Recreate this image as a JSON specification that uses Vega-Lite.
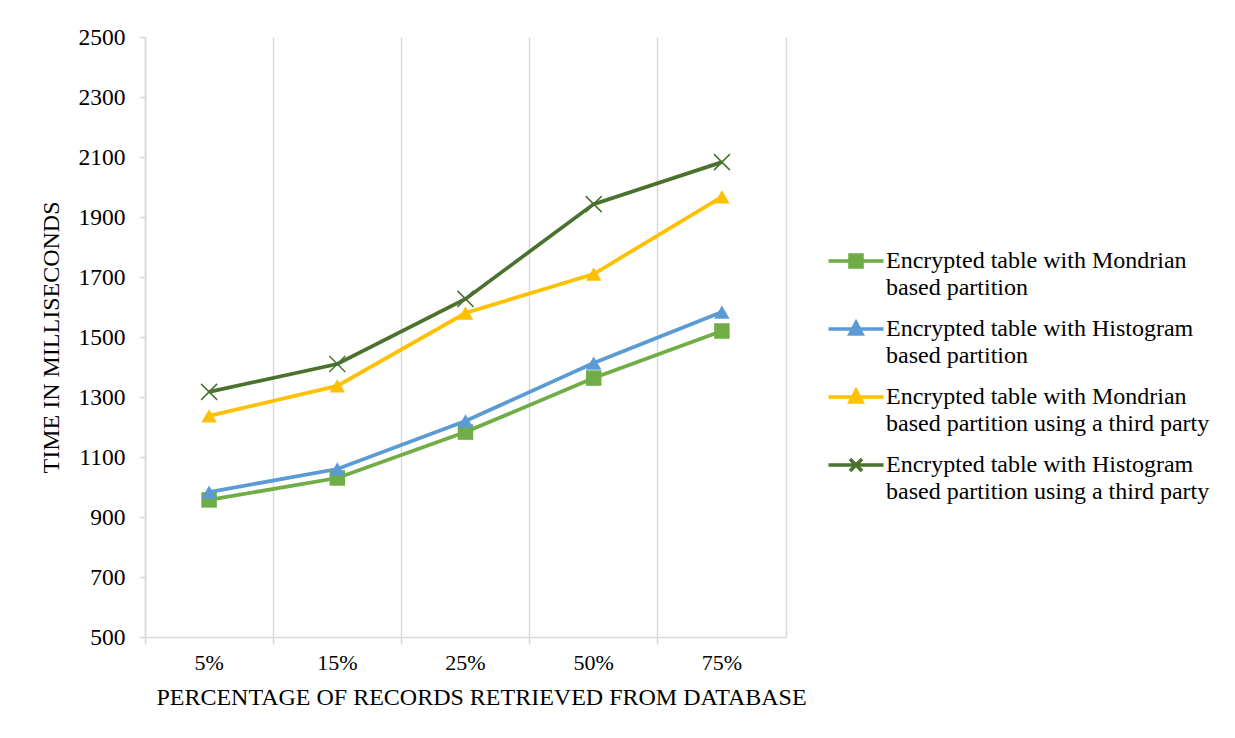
{
  "$schema": "https://vega.github.io/schema/vega-lite/v6.json",
  "width": 641,
  "height": 600,
  "autosize": {"type": "none"},
  "padding": {"left": 145, "top": 37, "right": 449, "bottom": 101},
  "background": "white",
  "config": {"font": "Liberation Serif", "view": {"stroke": null}},
  "data": {
    "values": [
      {"pct": "5%", "series": "Encrypted table with Mondrian based partition", "time": 957},
      {"pct": "15%", "series": "Encrypted table with Mondrian based partition", "time": 1030},
      {"pct": "25%", "series": "Encrypted table with Mondrian based partition", "time": 1183},
      {"pct": "50%", "series": "Encrypted table with Mondrian based partition", "time": 1363},
      {"pct": "75%", "series": "Encrypted table with Mondrian based partition", "time": 1520},
      {"pct": "5%", "series": "Encrypted table with Histogram based partition", "time": 983},
      {"pct": "15%", "series": "Encrypted table with Histogram based partition", "time": 1060},
      {"pct": "25%", "series": "Encrypted table with Histogram based partition", "time": 1220},
      {"pct": "50%", "series": "Encrypted table with Histogram based partition", "time": 1413},
      {"pct": "75%", "series": "Encrypted table with Histogram based partition", "time": 1583},
      {"pct": "5%", "series": "Encrypted table with Mondrian based partition using a third party", "time": 1237},
      {"pct": "15%", "series": "Encrypted table with Mondrian based partition using a third party", "time": 1337},
      {"pct": "25%", "series": "Encrypted table with Mondrian based partition using a third party", "time": 1580},
      {"pct": "50%", "series": "Encrypted table with Mondrian based partition using a third party", "time": 1710},
      {"pct": "75%", "series": "Encrypted table with Mondrian based partition using a third party", "time": 1967},
      {"pct": "5%", "series": "Encrypted table with Histogram based partition using a third party", "time": 1317},
      {"pct": "15%", "series": "Encrypted table with Histogram based partition using a third party", "time": 1410},
      {"pct": "25%", "series": "Encrypted table with Histogram based partition using a third party", "time": 1627},
      {"pct": "50%", "series": "Encrypted table with Histogram based partition using a third party", "time": 1943},
      {"pct": "75%", "series": "Encrypted table with Histogram based partition using a third party", "time": 2083}
    ]
  },
  "encoding": {
    "x": {
      "field": "pct",
      "type": "ordinal",
      "sort": ["5%", "15%", "25%", "50%", "75%"],
      "scale": {"type": "band", "paddingInner": 0, "paddingOuter": 0},
      "bandPosition": 0.5,
      "axis": {
        "bandPosition": 0,
        "grid": true,
        "gridColor": "#d9d9d9",
        "gridWidth": 1.5,
        "ticks": true,
        "tickColor": "#d9d9d9",
        "tickWidth": 1.5,
        "tickSize": 7,
        "domainColor": "#d9d9d9",
        "domainWidth": 1.5,
        "labelAngle": 0,
        "labelFontSize": 22,
        "labelColor": "#000000",
        "labelPadding": 8,
        "title": "PERCENTAGE OF RECORDS RETRIEVED FROM DATABASE",
        "titleFontSize": 24,
        "titleFontWeight": "normal",
        "titleColor": "#000000",
        "titleX": 336,
        "titlePadding": 12
      }
    },
    "color": {
      "field": "series",
      "type": "nominal",
      "scale": {
        "domain": [
          "Encrypted table with Mondrian based partition",
          "Encrypted table with Histogram based partition",
          "Encrypted table with Mondrian based partition using a third party",
          "Encrypted table with Histogram based partition using a third party"
        ],
        "range": ["#70AD47", "#5B9BD5", "#FFC000", "#4A722E"]
      },
      "legend": {
        "title": null,
        "orient": "none",
        "legendX": 698,
        "legendY": 211,
        "symbolSize": 484,
        "symbolStrokeWidth": 3,
        "labelFontSize": 24,
        "labelColor": "#000000",
        "labelLimit": 500,
        "labelOffset": 17,
        "labelBaseline": "middle",
        "rowPadding": 15,
        "labelExpr": "split(replace(datum.label, ' based', '|based'), '|')",
        "encode": {
          "symbols": {
            "update": {
              "shape": {"signal": "indexof(datum.value, 'third') >= 0 ? (indexof(datum.value, 'Histogram') >= 0 ? 'M-2.5,0H2.5M-0.55,-0.55L0.55,0.55M0.55,-0.55L-0.55,0.55' : 'M-2.5,0H2.5M0,-0.6L0.55,0.45H-0.55Z') : (indexof(datum.value, 'Histogram') >= 0 ? 'M-2.5,0H2.5M0,-0.6L0.55,0.45H-0.55Z' : 'M-2.5,0H2.5M-0.55,-0.55H0.55V0.55H-0.55Z')"},
              "fill": {"scale": "color", "field": "value"},
              "stroke": {"scale": "color", "field": "value"},
              "strokeWidth": {"value": 3.5},
              "opacity": {"value": 1}
            }
          },
          "labels": {
            "update": {
              "lineHeight": {"value": 27}
            }
          }
        }
      }
    }
  },
  "layer": [
    {
      "mark": {"type": "line", "strokeWidth": 3.75},
      "encoding": {
        "y": {
          "field": "time",
          "type": "quantitative",
          "scale": {"domain": [500, 2500], "nice": false},
          "axis": {
            "orient": "left",
            "values": [500, 700, 900, 1100, 1300, 1500, 1700, 1900, 2100, 2300, 2500],
            "format": "d",
            "grid": false,
            "domainColor": "#d9d9d9",
            "domainWidth": 1.5,
            "tickColor": "#d9d9d9",
            "tickWidth": 1.5,
            "tickSize": 6,
            "labelFontSize": 23.5,
            "labelColor": "#000000",
            "labelPadding": 14,
            "title": "TIME IN MILLISECONDS",
            "titleFontSize": 24,
            "titleFontWeight": "normal",
            "titleColor": "#000000",
            "titlePadding": 15
          }
        }
      }
    },
    {
      "transform": [{"filter": "indexof(datum.series, 'Histogram based partition using') < 0"}],
      "mark": {"type": "point", "filled": true, "opacity": 1, "size": 240},
      "encoding": {
        "y": {"field": "time", "type": "quantitative", "axis": null},
        "shape": {
          "field": "series",
          "type": "nominal",
          "scale": {
            "domain": [
              "Encrypted table with Mondrian based partition",
              "Encrypted table with Histogram based partition",
              "Encrypted table with Mondrian based partition using a third party"
            ],
            "range": ["square", "triangle-up", "triangle-up"]
          },
          "legend": null
        }
      }
    },
    {
      "transform": [{"filter": "indexof(datum.series, 'Histogram based partition using') >= 0"}],
      "mark": {"type": "point", "filled": false, "opacity": 1, "size": 256, "strokeWidth": 1.5, "shape": "M-1,-1L1,1M1,-1L-1,1"},
      "encoding": {
        "y": {
          "field": "time",
          "type": "quantitative",
          "axis": {"orient": "right", "labels": false, "ticks": false, "title": null, "grid": false, "domainColor": "#d9d9d9", "domainWidth": 1.5}
        }
      }
    }
  ],
  "resolve": {"axis": {"y": "independent"}}
}
